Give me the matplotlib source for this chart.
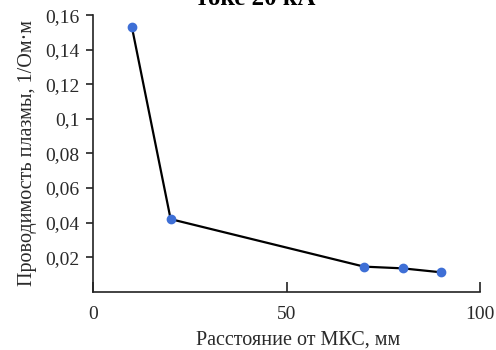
import matplotlib
matplotlib.use("Agg")
import matplotlib.pyplot as plt
from matplotlib.ticker import FixedLocator, FixedFormatter

distance = [10, 20, 70, 80, 90]
conductivity = [0.153, 0.042, 0.0145, 0.0135, 0.0112]
xticks = [0, 50, 100]
xtick_labels = ["0", "50", "100"]
yticks = [0.02, 0.04, 0.06, 0.08, 0.1, 0.12, 0.14, 0.16]
ytick_labels = ["0,02", "0,04", "0,06", "0,08", "0,1", "0,12", "0,14", "0,16"]

plt.rcParams['font.family'] = ['Liberation Serif', 'DejaVu Serif']
txt = '#2a2a2a'

fig = plt.figure(figsize=(4.96, 3.5), dpi=100)
ax = fig.add_axes([0.188, 0.1666, 0.780, 0.790])
ax.plot(distance, conductivity, color='black', lw=1.6, zorder=2)
ax.plot(distance, conductivity, 'o', color='#3e6fd6', ms=6, zorder=3)

ax.set_xlim(0, 100)
ax.set_ylim(0, 0.16)
ax.xaxis.set_major_locator(FixedLocator(xticks))
ax.xaxis.set_major_formatter(FixedFormatter(xtick_labels))
ax.yaxis.set_major_locator(FixedLocator(yticks))
ax.yaxis.set_major_formatter(FixedFormatter(ytick_labels))
for s in ['top', 'right']:
    ax.spines[s].set_visible(False)
for s in ['left', 'bottom']:
    ax.spines[s].set_linewidth(1.2)
    ax.spines[s].set_color('#222222')
ax.tick_params(axis='y', direction='out', length=5, width=1.2, labelsize=14, colors='#222222', labelcolor=txt, pad=5)
ax.tick_params(axis='x', direction='in', length=7, width=1.2, labelsize=14, colors='#222222', labelcolor=txt, pad=10)
ax.set_xlabel("Расстояние от МКС, мм", fontsize=14.5, color=txt)
ax.xaxis.set_label_coords(0.53, -0.14)
ax.set_ylabel("Проводимость плазмы, 1/Ом·м", fontsize=14.5, color=txt, labelpad=6)

fig.text(0.515, 0.986, "токе 20 кА", ha='center', va='baseline', fontsize=18, fontweight='bold', color='black')

fig.savefig("out.png", dpi=100)
